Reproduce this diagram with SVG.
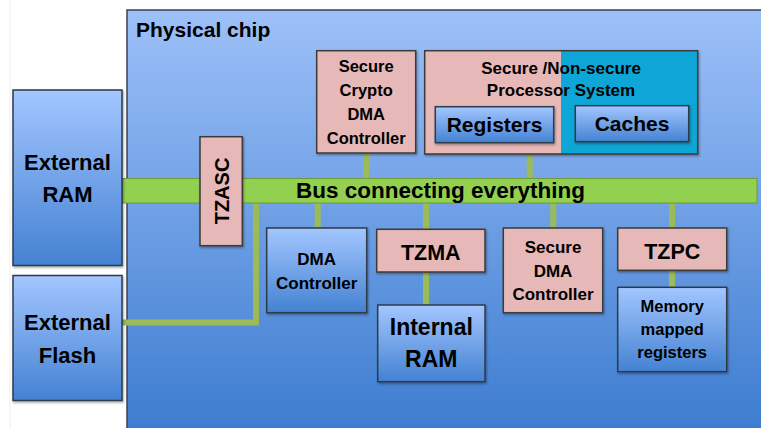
<svg xmlns="http://www.w3.org/2000/svg" width="761" height="428" viewBox="0 0 761 428">
<defs>
<linearGradient id="chipG" x1="0" y1="0" x2="0" y2="1">
<stop offset="0" stop-color="#9dc0f8"/>
<stop offset="1" stop-color="#3b7bcf"/>
</linearGradient>
<linearGradient id="boxG" x1="0" y1="0" x2="0" y2="1">
<stop offset="0" stop-color="#a3c6ff"/>
<stop offset="1" stop-color="#4482d2"/>
</linearGradient>
<filter id="sh" x="-10%" y="-10%" width="130%" height="130%">
<feDropShadow dx="1" dy="1.5" stdDeviation="1" flood-color="#000" flood-opacity="0.35"/>
</filter>
</defs>
<style>
text{font-family:"Liberation Sans",Arial,sans-serif;font-weight:bold;fill:#000;text-anchor:middle}
.blue{fill:url(#boxG);stroke:#2f3a4a;stroke-width:1.5;filter:url(#sh)}
.pink{fill:#e6b8b7;stroke:#3a3a3a;stroke-width:1.5;filter:url(#sh)}
.conn{stroke:#9bbb59;stroke-width:6;fill:none}
</style>
<rect x="0" y="0" width="761" height="428" fill="#ffffff"/>
<line x1="10" y1="0" x2="10" y2="428" stroke="#ececec" stroke-width="1"/>

<g id="chip">
<rect x="127" y="10" width="640" height="430" fill="url(#chipG)" stroke="#3a4250" stroke-width="1.5"/>
<text x="136" y="37" font-size="21" style="text-anchor:start">Physical chip</text>
</g>

<g id="connectors">
<line class="conn" x1="366.5" y1="153" x2="366.5" y2="179"/>
<line class="conn" x1="529.7" y1="154" x2="529.7" y2="179"/>
<line class="conn" x1="317.7" y1="202" x2="317.7" y2="229"/>
<line class="conn" x1="426" y1="202" x2="426" y2="230"/>
<line class="conn" x1="426" y1="271" x2="426" y2="306"/>
<line class="conn" x1="553.3" y1="202" x2="553.3" y2="229"/>
<line class="conn" x1="672" y1="202" x2="672" y2="229"/>
<line class="conn" x1="672" y1="269" x2="672" y2="288"/>
<polyline class="conn" points="122,322.5 256,322.5 256,202"/>
</g>

<g id="bus">
<rect x="122" y="178.5" width="635" height="24.5" fill="#92d050" stroke="#6f9a3c" stroke-width="1"/>
<text x="440.5" y="198" font-size="22.5">Bus connecting everything</text>
</g>

<g id="external-ram">
<rect class="blue" x="13" y="90" width="109" height="175.5"/>
<text x="67.5" y="170" font-size="22">External</text>
<text x="67.5" y="202" font-size="22">RAM</text>
</g>

<g id="external-flash">
<rect class="blue" x="13" y="275.5" width="109" height="125"/>
<text x="67.5" y="330" font-size="22">External</text>
<text x="67.5" y="362.5" font-size="22">Flash</text>
</g>

<g id="tzasc">
<rect class="pink" x="200" y="136.7" width="42.3" height="109"/>
<text transform="translate(229 191) rotate(-90)" x="0" y="0" font-size="20">TZASC</text>
</g>

<g id="secure-crypto-dma">
<rect class="pink" x="316.7" y="50.7" width="99" height="102.3"/>
<text x="366.2" y="71.7" font-size="16.5">Secure</text>
<text x="366.2" y="96.2" font-size="16.5">Crypto</text>
<text x="366.2" y="120.2" font-size="16.5">DMA</text>
<text x="366.2" y="143.5" font-size="16.5">Controller</text>
</g>

<g id="processor-system">
<g filter="url(#sh)">
<rect x="424.7" y="50.7" width="136.3" height="103.3" fill="#e6b8b7"/>
<rect x="561" y="50.7" width="136.7" height="103.3" fill="#0ea6d6"/>
<rect x="424.7" y="50.7" width="273" height="103.3" fill="none" stroke="#3a3a3a" stroke-width="1.5"/>
</g>
<text x="561" y="74" font-size="17">Secure /Non-secure</text>
<text x="561" y="96" font-size="17">Processor System</text>
</g>

<g id="registers">
<rect class="blue" x="435.3" y="106.7" width="118.4" height="36"/>
<text x="494.5" y="132" font-size="21">Registers</text>
</g>

<g id="caches">
<rect class="blue" x="575.3" y="105.7" width="113.4" height="36"/>
<text x="632" y="131" font-size="21">Caches</text>
</g>

<g id="dma-controller">
<rect class="blue" x="266.7" y="228" width="100" height="84.7"/>
<text x="316.7" y="265" font-size="17">DMA</text>
<text x="316.7" y="288.5" font-size="17">Controller</text>
</g>

<g id="tzma">
<rect class="pink" x="376.7" y="229.3" width="108.3" height="42.7"/>
<text x="430.8" y="260" font-size="21.5">TZMA</text>
</g>

<g id="internal-ram">
<rect class="blue" x="377.7" y="305" width="107.3" height="76.7"/>
<text x="431.3" y="335" font-size="23">Internal</text>
<text x="431.3" y="366.7" font-size="23">RAM</text>
</g>

<g id="secure-dma">
<rect class="pink" x="503.3" y="228" width="99.4" height="84.7"/>
<text x="553" y="253.3" font-size="17">Secure</text>
<text x="553" y="277" font-size="17">DMA</text>
<text x="553" y="300.3" font-size="17">Controller</text>
</g>

<g id="tzpc">
<rect class="pink" x="617.7" y="228" width="109" height="42.3"/>
<text x="672.2" y="258.5" font-size="21.5">TZPC</text>
</g>

<g id="memory-mapped-registers">
<rect class="blue" x="617.7" y="287.3" width="109" height="84.4"/>
<text x="672.2" y="311.7" font-size="16.5">Memory</text>
<text x="672.2" y="335" font-size="16.5">mapped</text>
<text x="672.2" y="358.3" font-size="16.5">registers</text>
</g>
</svg>
